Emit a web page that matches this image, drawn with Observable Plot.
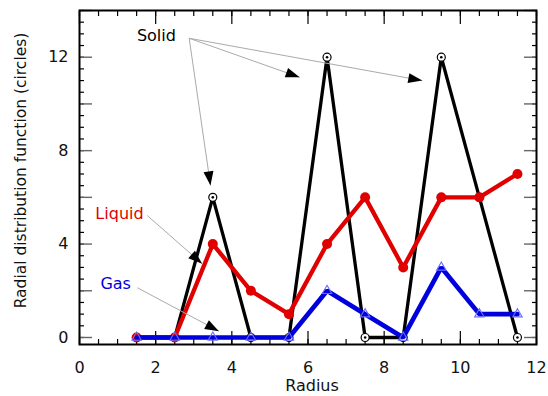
<!DOCTYPE html>
<html><head><meta charset="utf-8">
<script src="https://cdn.jsdelivr.net/npm/d3@7"></script>
<script src="https://cdn.jsdelivr.net/npm/@observablehq/plot@0.6"></script>
<style>body{margin:0;background:#fff;}</style>
</head><body><div id="chart"></div>
<script>
// ---- data ----
const radius = [1.5, 2.5, 3.5, 4.5, 5.5, 6.5, 7.5, 8.5, 9.5, 10.5, 11.5];
const solid  = [0, 0, 6, 0, 0, 12, 0, 0, 12, 6, 0];
const liquid = [0, 0, 4, 2, 1, 4, 6, 3, 6, 6, 7];
const gas    = [0, 0, 0, 0, 0, 2, 1, 0, 3, 1, 1];
const xTickLabels = [0, 2, 4, 6, 8, 10, 12];
const yTickLabels = [0, 4, 8, 12];
const xTitle = "Radius";
const yTitle = "Radial distribution function (circles)";
// annotation labels (data coordinates)
const noteText = ["Solid", "Liquid", "Gas"];
const noteX = [2.02, 1.05, 0.95];
const noteY = [12.93, 5.31, 2.31];
// annotation arrows (data coordinates)
const arrowSeries = ["Solid", "Solid", "Solid", "Liquid", "Gas"];
const arrowX1 = [2.88, 2.88, 2.88, 1.78, 1.52];
const arrowY1 = [12.81, 12.81, 12.81, 5.22, 2.13];
const arrowX2 = [3.44, 5.78, 9.0, 3.22, 3.66];
const arrowY2 = [6.51, 11.14, 11.0, 3.16, 0.27];

// ---- layout / style ----
const W = 548, H = 396;
const M = {left: 79, right: 12, top: 10, bottom: 52};
const xDomain = [0, 12], yDomain = [-0.3, 14];
const colors = {Solid: "#000000", Liquid: "#e00000", Gas: "#0000dd"};
const FONT = "'DejaVu Sans', Verdana, sans-serif";

const rows = radius.map((r, i) => ({r, solid: solid[i], liquid: liquid[i], gas: gas[i]}));
const notes = noteText.map((t, i) => ({t, x: noteX[i], y: noteY[i]}));
const arrows = arrowSeries.map((s, i) => ({s, x1: arrowX1[i], y1: arrowY1[i], x2: arrowX2[i], y2: arrowY2[i]}));

// pixel-space helpers only used to orient arrowheads
const xs = d3.scaleLinear(xDomain, [M.left, W - M.right]);
const ys = d3.scaleLinear(yDomain, [H - M.bottom, M.top]);
const headAngle = d => Math.atan2(xs(d.x2) - xs(d.x1), -(ys(d.y2) - ys(d.y1))) * 180 / Math.PI;
const arrowHead = {draw(ctx) { ctx.moveTo(0, 0); ctx.lineTo(-5, 14); ctx.lineTo(5, 14); ctx.closePath(); }};

const minorX = d3.range(0, 12.001, 0.5);
const majorX = d3.range(0, 12.001, 2);
const minorY = d3.range(0, 14.001, 0.5);
const majorY = d3.range(0, 14.001, 2);
const blank = () => "";

const chart = Plot.plot({
  width: W, height: H,
  marginLeft: M.left, marginRight: M.right, marginTop: M.top, marginBottom: M.bottom,
  style: {fontFamily: FONT, fontSize: "16px", background: "#fff"},
  x: {domain: xDomain, label: null},
  y: {domain: yDomain, label: null},
  marks: [
    // inward ticks
    Plot.axisX(minorX, {anchor: "bottom", tickSize: -5, tickFormat: blank, label: null, strokeWidth: 1.2}),
    Plot.axisX(majorX, {anchor: "bottom", tickSize: -13, tickFormat: blank, label: null, strokeWidth: 1.2}),
    Plot.axisX(minorX, {anchor: "top", tickSize: -5, tickFormat: blank, label: null, strokeWidth: 1.2}),
    Plot.axisX(majorX, {anchor: "top", tickSize: -13, tickFormat: blank, label: null, strokeWidth: 1.2}),
    Plot.axisY(minorY, {anchor: "left", tickSize: -5, tickFormat: blank, label: null, strokeWidth: 1.2}),
    Plot.axisY(majorY, {anchor: "left", tickSize: -13, tickFormat: blank, label: null, stroke: "#666", strokeWidth: 1.4}),
    Plot.axisY(minorY, {anchor: "right", tickSize: -5, tickFormat: blank, label: null, strokeWidth: 1.2}),
    Plot.axisY(majorY, {anchor: "right", tickSize: -13, tickFormat: blank, label: null, stroke: "#666", strokeWidth: 1.4}),
    // tick labels
    Plot.axisX(xTickLabels, {anchor: "bottom", tickSize: 0, tickPadding: 17, label: null, fontSize: 16, fill: "#111"}),
    Plot.axisY(yTickLabels, {anchor: "left", tickSize: 0, tickPadding: 11, label: null, fontSize: 16, fill: "#111"}),
    // axis titles
    Plot.text([xTitle], {frameAnchor: "bottom", text: d => d, textAnchor: "middle", lineAnchor: "middle", dx: 4, dy: 41, fontSize: 16, fill: "#111"}),
    Plot.text([yTitle], {frameAnchor: "left", text: d => d, textAnchor: "middle", lineAnchor: "middle", rotate: -90, dx: -58, dy: -7, fontSize: 15.5, fill: "#111"}),
    // Solid
    Plot.line(rows, {x: "r", y: "solid", stroke: colors.Solid, strokeWidth: 3.3, strokeLinejoin: "miter"}),
    Plot.dot(rows, {x: "r", y: "solid", r: 4, fill: "white", stroke: colors.Solid, strokeWidth: 1.2}),
    Plot.dot(rows, {x: "r", y: "solid", r: 1.3, fill: colors.Solid, stroke: "none"}),
    // Liquid
    Plot.line(rows, {x: "r", y: "liquid", stroke: colors.Liquid, strokeWidth: 4.3, strokeLinejoin: "miter"}),
    Plot.dot(rows, {x: "r", y: "liquid", r: 5, fill: colors.Liquid, stroke: "none"}),
    // Gas
    Plot.line(rows, {x: "r", y: "gas", stroke: colors.Gas, strokeWidth: 4.7, strokeLinejoin: "miter"}),
    Plot.dot(rows, {x: "r", y: "gas", symbol: "triangle", r: 3.5, fill: "none", stroke: "#6a6aff", strokeWidth: 1.1}),
    // annotations
    Plot.link(arrows, {x1: "x1", y1: "y1", x2: "x2", y2: "y2", stroke: "#aaa", strokeWidth: 1}),
    Plot.dot(arrows, {x: "x2", y: "y2", symbol: arrowHead, r: 5, rotate: headAngle, fill: "black", stroke: "none"}),
    Plot.text(notes, {x: "x", y: "y", text: "t", fill: d => colors[d.t], fontSize: 16}),
    Plot.frame({stroke: "black", strokeWidth: 2})
  ]
});
document.getElementById("chart").appendChild(chart);
</script>
</body></html>
